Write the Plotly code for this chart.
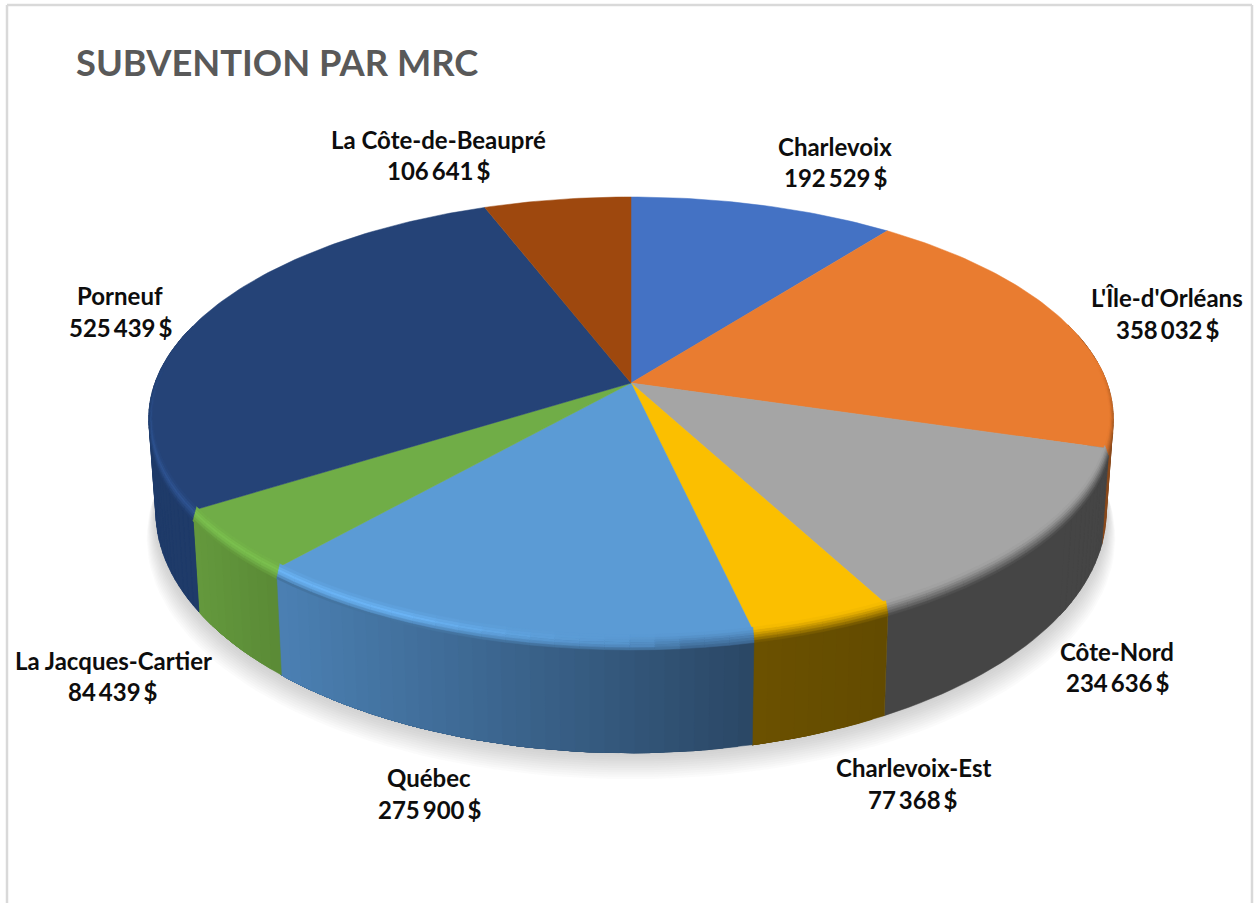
import numpy as np
import plotly.graph_objects as go

# ---- data ----
categories = ["Charlevoix", "L'Île-d'Orléans", "Côte-Nord", "Charlevoix-Est",
              "Québec", "La Jacques-Cartier", "Porneuf", "La Côte-de-Beaupré"]
values = [192529, 358032, 234636, 77368, 275900, 84439, 525439, 106641]
chart_title = "SUBVENTION PAR MRC"

# ---- styles ----
top_colors = ["#4472c4", "#e97c30", "#a5a5a5", "#fbbf00", "#5b9bd5", "#70ad47", "#254377", "#9e480e"]
wall_left = ["#2f4f88", "#8a4a1c", "#454545", "#6b5100", "#4b80b3", "#64993d", "#1f3b69", "#6e3209"]
wall_right = ["#2f4f88", "#8a4a1c", "#454545", "#634b00", "#2a4765", "#5a8a36", "#1f3b69", "#6e3209"]
rim_light = ["#4472c4", "#e97c30", "#a5a5a5", "#fbbf00", "#6db8fa", "#7cc24f", "#2f5593", "#9e480e"]
label_pos = [(835, 146, 177), (1167, 297, 329), (1117, 651, 682), (913, 767, 799),
             (429, 777, 809), (113, 660, 691), (120, 295, 327), (438, 139, 170)]
FONT = "Lato"
LABEL_SIZE = 24
TITLE_SIZE = 36.3

# ---- projection of the tilted disc ----
CX, CY, K, A, B = 631.0, 383.0, 0.16, 215.8, 476.0
BY, BA, BB = 473.0, 235.0, 469.0


def top_pt(th, r=1.0):
    u, v = r * np.sin(th), r * np.cos(th)
    d = 1 + K * v
    return CX + B * u / d, CY - A * v / d


def bot_pt(th, r=1.0):
    u, v = r * np.sin(th), r * np.cos(th)
    d = 1 + K * v
    return CX + BB * u / d, BY - BA * v / d


def rgb(h):
    return np.array([int(h[i:i + 2], 16) for i in (1, 3, 5)], float)


def mix(a, b, t):
    c = a + (b - a) * float(np.clip(t, 0, 1))
    return "rgb(%d,%d,%d)" % tuple(np.round(c))


def clamp(x):
    return float(np.clip(x, 0, 1))


fig = go.Figure()


def poly(xs, ys, color, lw=0.7, name=None):
    xs, ys = list(xs), list(ys)
    fig.add_trace(go.Scatter(
        x=xs + xs[:1], y=ys + ys[:1], mode="lines", fill="toself", fillcolor=color,
        line=dict(color=color, width=lw), showlegend=False,
        hoverinfo="text" if name else "skip", text=name,
    ))


total = sum(values)
edges = 2 * np.pi * np.cumsum([0] + values) / total

# soft shadow below the disc
circle = np.linspace(0, 2 * np.pi, 181)
for i in range(12, 0, -1):
    s = 1 + i * 0.0016
    xs = [CX + (bot_pt(t)[0] - CX) * s for t in circle]
    ys = [bot_pt(t)[1] + i * 2.2 for t in circle]
    poly(xs, ys, "rgba(120,120,120,0.028)", lw=0)

# side walls
for i in range(len(values)):
    n = max(2, int((edges[i + 1] - edges[i]) / np.radians(1.5)))
    ths = np.linspace(edges[i], edges[i + 1], n + 1)
    vis = [t for t in ths if np.cos(t) < 0.3]
    if len(vis) < 2:
        continue
    if wall_left[i] == wall_right[i]:
        tp = [top_pt(t) for t in vis]
        bp = [bot_pt(t) for t in vis[::-1]]
        poly([p[0] for p in tp + bp], [p[1] for p in tp + bp], wall_left[i], lw=0.5)
        # near the silhouette the two rims cross: fill the sliver outside that crossing
        for a, b in zip(vis[:-1], vis[1:]):
            if abs(np.cos((a + b) / 2) + K) < 0.4:
                ta, tb, ba, bb = top_pt(a), top_pt(b), bot_pt(a), bot_pt(b)
                poly([ta[0], tb[0], bb[0], ba[0]], [ta[1], tb[1], bb[1], ba[1]], wall_left[i], lw=0.6)
        continue
    x0, x1 = top_pt(vis[-1])[0], top_pt(vis[0])[0]
    lo, hi = min(x0, x1), max(x0, x1)
    cl, cr = rgb(wall_left[i]), rgb(wall_right[i])
    # painted from the first angle on, each strip running to the slice's end, so no seams show
    for j, a in enumerate(vis[:-1]):
        rest = vis[j:]
        tp = [top_pt(t) for t in rest]
        bp = [bot_pt(t) for t in rest[::-1]]
        b = vis[j + 1]
        t = ((top_pt(a)[0] + top_pt(b)[0]) / 2 - lo) / max(hi - lo, 1)
        poly([p[0] for p in tp + bp], [p[1] for p in tp + bp], mix(cl, cr, t), lw=0.5)

# top faces
for i, (cat, val) in enumerate(zip(categories, values)):
    n = max(4, int((edges[i + 1] - edges[i]) / np.radians(1)))
    ths = np.linspace(edges[i], edges[i + 1], n + 1)
    pts = [top_pt(t) for t in ths]
    poly([CX] + [p[0] for p in pts], [CY] + [p[1] for p in pts], top_colors[i], lw=0.5,
         name=f"{cat}: {val}")

# bevelled rim: t = 0 on the wall side, t = 1 on the disc side
bands = np.linspace(0, 1, 7)


def rim(th, t):
    x, y = top_pt(th, 1 - 0.008 * t)
    return x, y + (10 * (1 - t) - 3 * t) * clamp(-np.cos(th) / 0.35)


for i in range(len(values)):
    n = max(2, int((edges[i + 1] - edges[i]) / np.radians(2.5)))
    ths = np.linspace(edges[i], edges[i + 1], n + 1)
    ctop, cwall = rgb(top_colors[i]), (rgb(wall_left[i]) + rgb(wall_right[i])) / 2
    clight = rgb(rim_light[i])
    for a, b in zip(ths[:-1], ths[1:]):
        m = (a + b) / 2
        u, v = np.sin(m), np.cos(m)
        fade = clamp((0.1 - v) / 0.35)
        if fade <= 0:
            continue
        w_hl = clamp((-u - 0.1) / 0.3) * fade
        w_dk = clamp((u + 0.05) / 0.15) * fade
        for k in range(len(bands) - 1):
            t0, t1 = bands[k], bands[k + 1]
            tm = (t0 + t1) / 2
            prof = max(0.0, 1 - abs(tm - 0.55) / 0.45)
            c = ctop + (clight - ctop) * w_hl * prof
            c = c + (cwall - c) * max(w_dk * (1 - tm) ** 1.3, fade * (1 - tm) ** 4)
            col = "rgb(%d,%d,%d)" % tuple(np.round(c))
            p = [rim(a, t0), rim(b, t0), rim(b, t1), rim(a, t1)]
            poly([q[0] for q in p], [q[1] for q in p], col, lw=0.5)

# labels
annotations = []
for cat, val, (lx, y1, y2) in zip(categories, values, label_pos):
    money = f"{val:,}".replace(",", "\u2009") + "\u2009$"
    for txt, ly in ((cat, y1), (money, y2)):
        annotations.append(dict(x=lx, y=ly, text=txt, showarrow=False, xanchor="center", yanchor="middle",
                                font=dict(family=FONT, size=LABEL_SIZE, color="#0d0d0d", weight=700)))
annotations.append(dict(x=73.5, y=62, text=chart_title, showarrow=False, xanchor="left", yanchor="middle",
                        font=dict(family=FONT, size=TITLE_SIZE, color="#595959", weight=700)))

border = "#d9d9d9"
shapes = [
    dict(type="line", x0=7, x1=7, y0=5, y1=903, line=dict(color=border, width=2.5)),
    dict(type="line", x0=7, x1=1252, y0=5, y1=5, line=dict(color=border, width=2.5)),
    dict(type="line", x0=1252, x1=1252, y0=5, y1=903, line=dict(color=border, width=2.5)),
]

fig.update_layout(
    width=1254, height=903, autosize=False, margin=dict(l=0, r=0, t=0, b=0),
    paper_bgcolor="white", plot_bgcolor="white", showlegend=False, hovermode="closest",
    xaxis=dict(range=[0, 1254], visible=False, fixedrange=True),
    yaxis=dict(range=[903, 0], visible=False, fixedrange=True),
    annotations=annotations, shapes=shapes,
)
fig.write_html("out.html", config=dict(displayModeBar=False),
               post_script="document.body.style.margin='0';document.body.style.overflow='hidden';")
